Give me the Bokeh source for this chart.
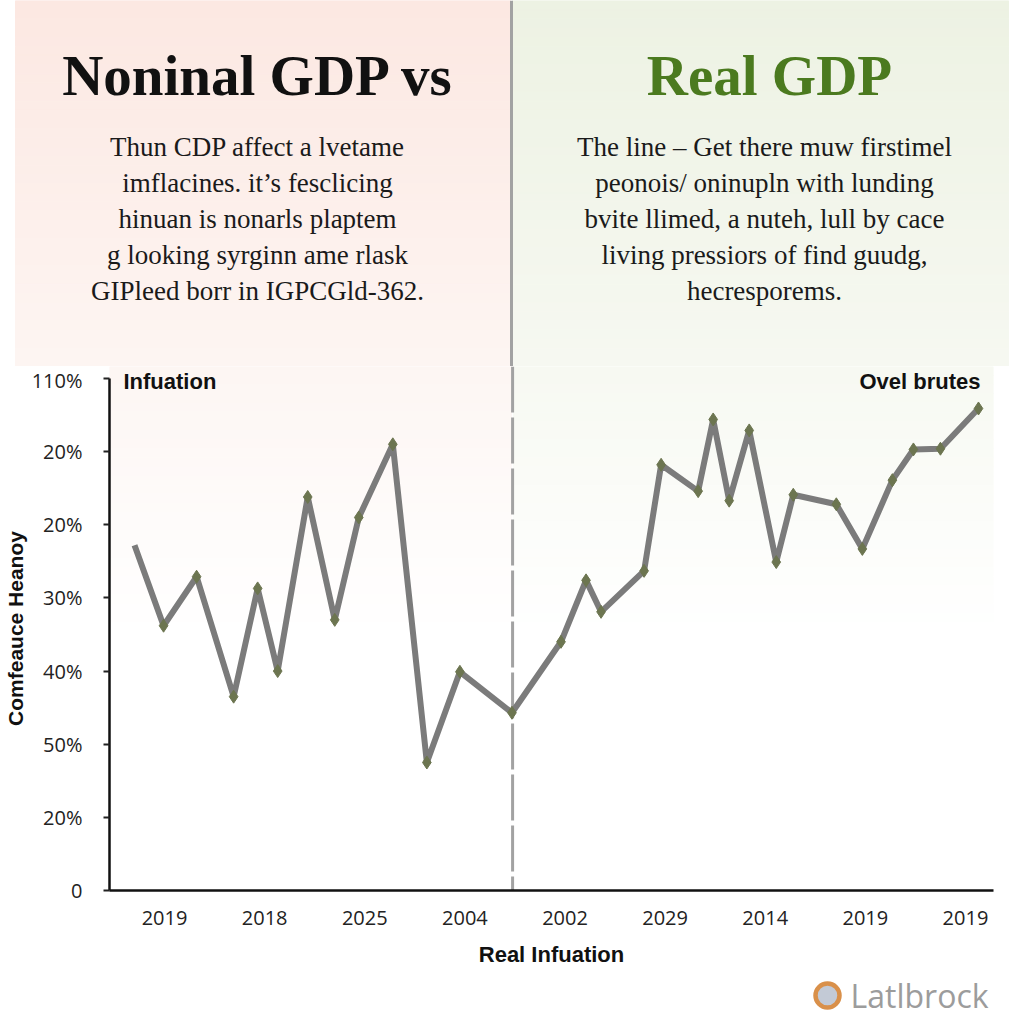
import numpy as np
from bokeh.plotting import figure
from bokeh.layouts import column
from bokeh.models import Range1d, FixedTicker, Plot
from bokeh.core.properties import value
from bokeh.embed import file_html
from bokeh.resources import INLINE

# ---------------- data ----------------
x_pos = [-0.30, -0.01, 0.32, 0.69, 0.93, 1.13, 1.43, 1.70, 1.94, 2.28,
         2.62, 2.95, 3.47, 3.96, 4.21, 4.36, 4.79, 4.96, 5.33, 5.48,
         5.64, 5.84, 6.11, 6.28, 6.71, 6.97, 7.27, 7.48, 7.75, 8.13]
y_val = [4.72, 3.62, 4.29, 2.65, 4.13, 3.00, 5.38, 3.70, 5.10, 6.10,
         1.75, 2.99, 2.43, 3.40, 4.24, 3.81, 4.37, 5.82, 5.46, 6.44,
         5.33, 6.29, 4.49, 5.41, 5.28, 4.67, 5.61, 6.03, 6.04, 6.59]
x_tick_labels = ["2019", "2018", "2025", "2004", "2002", "2029", "2014", "2019", "2019"]
y_tick_labels = ["0", "20%", "50%", "40%", "30%", "20%", "20%", "110%"]

title_left = "Noninal GDP vs"
title_right = "Real GDP"
para_left = ["Thun CDP affect a lvetame",
             "imflacines. it\u2019s fesclicing",
             "hinuan is nonarls plaptem",
             "g looking syrginn ame rlask",
             "GIPleed borr in IGPCGld-362."]
para_right = ["The line \u2013 Get there muw firstimel",
              "peonois/ oninupln with lunding",
              "bvite llimed, a nuteh, lull by cace",
              "living pressiors of find guudg,",
              "hecresporems."]
y_axis_title = "Comfeauce Heanoy"
x_axis_title = "Real Infuation"
left_series_label = "Infuation"
right_series_label = "Ovel brutes"
watermark = "Latlbrock"

W = 1024
LINE_GRAY = "#7b7b7b"
MARK = "#6c7550"
DIV = "#a2a2a2"


def lerp(c0, c1, t):
    return "#%02x%02x%02x" % tuple(int(round(a + (b - a) * t)) for a, b in zip(c0, c1))


def strips(p, x0, x1, y0, y1, c0, c1, n=40, **kw):
    e = np.linspace(y0, y1, n + 1)
    cols = [lerp(c0, c1, i / (n - 1)) for i in range(n)]
    p.quad(left=x0, right=x1, top=e[:-1], bottom=e[1:], fill_color=cols,
           line_color=cols, line_width=1, **kw)


# ---------------- header (page pixels 0..366) ----------------
hdr = figure(width=W, height=366, x_range=Range1d(0, 1024), y_range=Range1d(366, 0),
             output_backend="svg", toolbar_location=None,
             x_axis_type=None, y_axis_type=None, min_border=0)
hdr.outline_line_color = None
hdr.background_fill_color = "white"
hdr.border_fill_color = "white"

strips(hdr, 15, 510, 0, 366, (252, 232, 226), (253, 245, 242))
strips(hdr, 512, 1008, 0, 366, (237, 242, 227), (246, 248, 241))
hdr.segment(x0=[511], y0=[0], x1=[511], y1=[366], line_color=DIV, line_width=3)

hdr.text(x=[258], y=[75], text=[title_left], text_font=value("Liberation Serif"),
         text_font_style="bold", text_font_size="57px", text_align="center",
         text_baseline="middle", text_color="#111111")
hdr.text(x=[769], y=[75], text=[title_right], text_font=value("Liberation Serif"),
         text_font_style="bold", text_font_size="57px", text_align="center",
         text_baseline="middle", text_color="#4b7a1f")
ys = [146 + 36 * i for i in range(5)]
hdr.text(x=[257] * 5, y=ys, text=para_left, text_font=value("Liberation Serif"),
         text_font_size="27px", text_align="center", text_baseline="middle",
         text_color="#1a1a1a")
hdr.text(x=[764] * 5, y=ys, text=para_right, text_font=value("Liberation Serif"),
         text_font_size="27px", text_align="center", text_baseline="middle",
         text_color="#1a1a1a")

# ---------------- chart (page pixels 366..975, frame 107..993 x 366..890) ----------------
ch = figure(width=W, height=609, x_range=Range1d(-0.55, 8.28), y_range=Range1d(0, 7.164),
            output_backend="svg", toolbar_location=None,
            min_border_left=107, min_border_right=31, min_border_top=0, min_border_bottom=85)
ch.extra_x_ranges = {"px": Range1d(107, 993)}
ch.extra_y_ranges = {"px": Range1d(890, 366)}
ch.grid.visible = False
ch.outline_line_color = None
ch.background_fill_color = "white"
ch.border_fill_color = "white"

strips(ch, 107, 510, 366, 640, (253, 246, 243), (255, 255, 255), n=30,
       x_range_name="px", y_range_name="px")
strips(ch, 512, 993, 366, 640, (247, 249, 242), (255, 255, 255), n=30,
       x_range_name="px", y_range_name="px")
ch.segment(x0=[511], y0=[366], x1=[511], y1=[890], line_color=DIV, line_width=3,
           line_dash="46 5", x_range_name="px", y_range_name="px")

ch.line(x_pos, y_val, line_color=LINE_GRAY, line_width=6, line_join="round")
ch.scatter(x_pos[1:], y_val[1:], marker="diamond", size=13, fill_color=MARK,
           line_color=MARK, line_width=1)

ch.text(x=[121], y=[381], text=[left_series_label], x_range_name="px", y_range_name="px",
        text_font=value("Liberation Sans"), text_font_style="bold", text_font_size="22px",
        text_baseline="middle", text_align="left", text_color="#111111")
ch.text(x=[980], y=[381], text=[right_series_label], x_range_name="px", y_range_name="px",
        text_font=value("Liberation Sans"), text_font_style="bold", text_font_size="22px",
        text_baseline="middle", text_align="right", text_color="#111111")

xa = ch.xaxis[0]
xa.ticker = FixedTicker(ticks=list(range(len(x_tick_labels))))
xa.major_label_overrides = {i: s for i, s in enumerate(x_tick_labels)}
xa.major_tick_out = 0
xa.major_tick_in = 0
xa.minor_tick_out = 0
xa.minor_tick_in = 0
xa.axis_line_width = 2.5
xa.axis_line_color = "#111111"
xa.major_label_text_font = "Open Sans"
xa.major_label_text_font_size = "20px"
xa.major_label_text_color = "#222222"
xa.major_label_standoff = 20
xa.axis_label = x_axis_title
xa.axis_label_text_font = "Liberation Sans"
xa.axis_label_text_font_style = "bold"
xa.axis_label_text_font_size = "22px"
xa.axis_label_text_color = "#111111"
xa.axis_label_standoff = 14

ya = ch.yaxis[0]
ya.ticker = FixedTicker(ticks=list(range(len(y_tick_labels))))
ya.major_label_overrides = {i: s for i, s in enumerate(y_tick_labels)}
ya.bounds = (0, 7)
ya.major_tick_out = 6
ya.major_tick_in = 0
ya.major_tick_line_width = 2
ya.major_tick_line_color = "#222222"
ya.minor_tick_out = 0
ya.minor_tick_in = 0
ya.axis_line_width = 2.5
ya.axis_line_color = "#111111"
ya.major_label_text_font = "Open Sans"
ya.major_label_text_font_size = "20px"
ya.major_label_text_color = "#222222"
ya.major_label_standoff = 21
ya.axis_label = y_axis_title
ya.axis_label_text_font = "Liberation Sans"
ya.axis_label_text_font_style = "bold"
ya.axis_label_text_font_size = "21px"
ya.axis_label_text_color = "#111111"
ya.axis_label_standoff = 2

# ---------------- footer (page pixels 975..1024) ----------------
ft = figure(width=W, height=49, x_range=Range1d(0, 1024), y_range=Range1d(1024, 975),
            output_backend="svg", toolbar_location=None,
            x_axis_type=None, y_axis_type=None, min_border=0)
ft.outline_line_color = None
ft.background_fill_color = "white"
ft.border_fill_color = "white"
ft.circle(x=[827], y=[995], radius=12, line_color="#d9904a", line_width=4.5,
          fill_color="#c3cad6")
ft.text(x=[850], y=[995], text=[watermark], text_font=value("Open Sans"),
        text_font_size="32px", text_color="#9c9c9c", text_baseline="middle")

if "frame_align" in Plot.properties():
    for f in (hdr, ch, ft):
        f.frame_align = False
    page = column(hdr, ch, ft, spacing=0)
else:
    page = [hdr, ch, ft]

open("out.html", "w").write(file_html(page, INLINE))
